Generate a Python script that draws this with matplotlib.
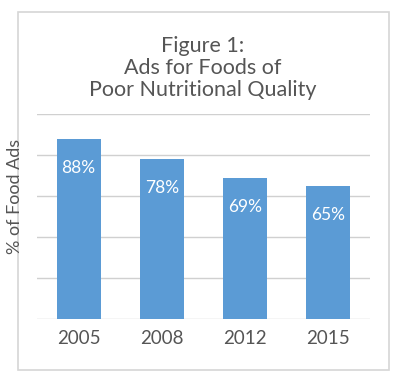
import matplotlib
matplotlib.use("Agg")
import matplotlib.pyplot as plt
from matplotlib.patches import Rectangle

years = ["2005", "2008", "2012", "2015"]
values = [88, 78, 69, 65]
labels = ["88%", "78%", "69%", "65%"]
title = "Figure 1:\nAds for Foods of\nPoor Nutritional Quality"
ylabel = "% of Food Ads"

W, H = 400, 383
fig = plt.figure(figsize=(W / 100, H / 100), dpi=100)
fig.patch.set_facecolor("white")
font = ["Lato", "DejaVu Sans"]
gray = "#555555"

# outer panel border
fig.add_artist(Rectangle((17.5 / W, 1 - 369.5 / H), (389 - 17.5) / W, (369.5 - 12) / H,
                         transform=fig.transFigure, fill=False,
                         edgecolor="#d6d6d6", linewidth=1.2))

ax = fig.add_axes([37 / W, 1 - 319 / H, (370 - 37) / W, (319 - 114) / H])
x = range(len(years))
bars = ax.bar(x, values, width=0.53, color="#5b9bd5", zorder=3)
ax.set_ylim(0, 100)
ax.set_xlim(-0.5, len(years) - 0.5)
ax.set_yticks([0, 20, 40, 60, 80, 100])
ax.set_yticklabels([])
ax.tick_params(axis="y", length=0)
ax.tick_params(axis="x", length=0, pad=8, labelsize=13.5, colors=gray)
ax.set_xticks(list(x))
ax.set_xticklabels(years, fontfamily=font)
ax.grid(axis="y", color="#d0d0d0", linewidth=1.0, zorder=0)
for s in ax.spines.values():
    s.set_visible(False)
ax.set_facecolor("none")

for b, lab in zip(bars, labels):
    ax.annotate(lab, (b.get_x() + b.get_width() / 2, b.get_height()),
                xytext=(0, -21), textcoords="offset points", ha="center", va="center",
                color="white", fontsize=12.5, fontfamily=font, zorder=4)

fig.text(203 / W, 1 - 68 / H, title, ha="center", va="center", fontsize=15.5,
         color=gray, fontfamily=font, linespacing=1.15)
fig.text(15 / W, 1 - 196 / H, ylabel, ha="center", va="center", rotation=90,
         fontsize=13, color=gray, fontfamily=font)

fig.savefig("out.png", dpi=100, facecolor="white")
